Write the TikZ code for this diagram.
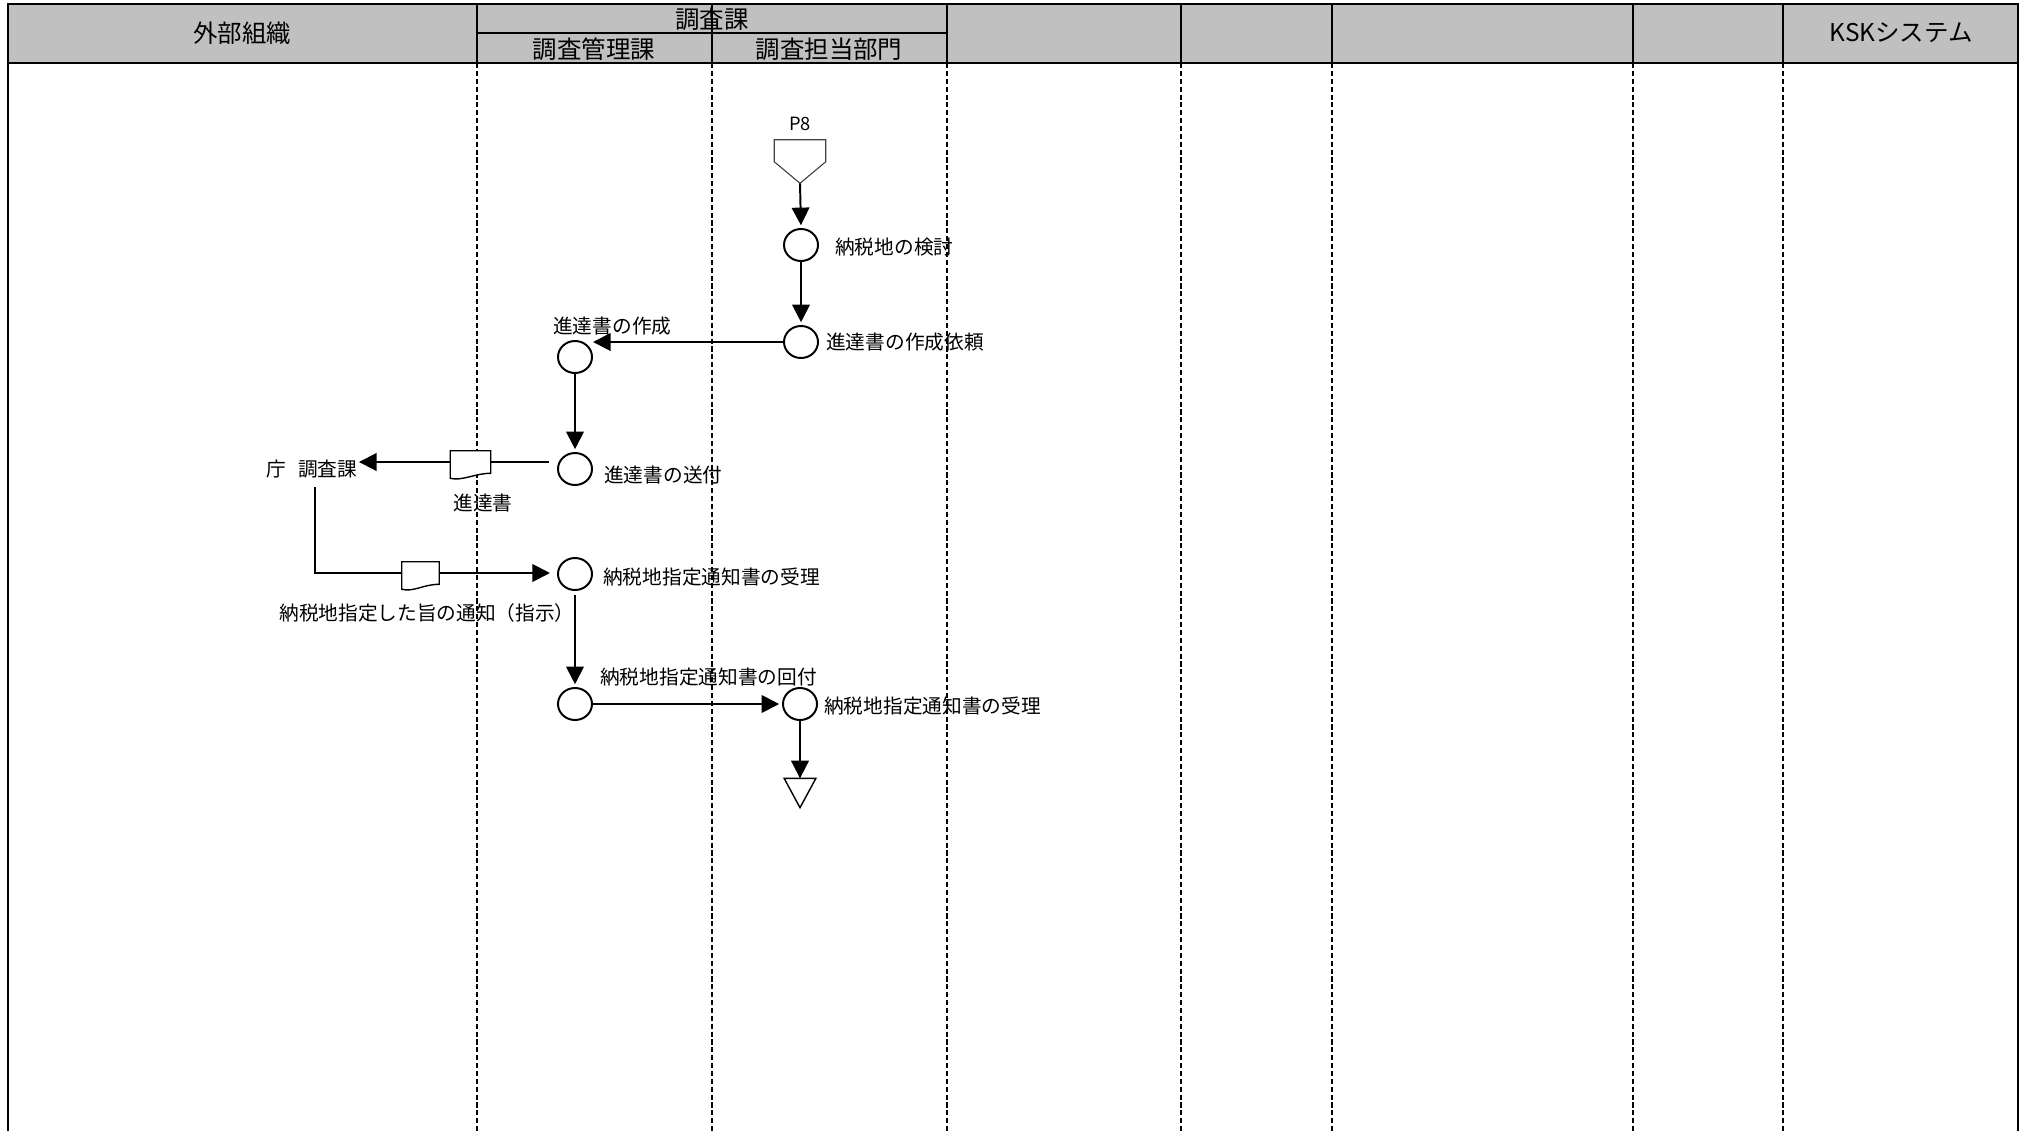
\documentclass[tikz,border=0pt]{standalone}
\usepackage{fontspec}
\setmainfont{Noto Sans CJK JP}
\usetikzlibrary{arrows.meta,shapes.geometric,calc}
\definecolor{headgray}{HTML}{C0C0C0}

\begin{document}
\begin{tikzpicture}[
	x=0.025cm, y=-0.025cm,
	proc/.style={ ellipse, draw, line width=1.4pt, fill=white, inner sep=0pt, minimum width=0.85cm, minimum height=0.8cm },
	txt/.style={ inner sep=0pt, font=\fontsize{14pt}{16pt}\selectfont },
	headtxt/.style={ inner sep=0pt, font=\fontsize{17.4pt}{20pt}\selectfont },
	arr/.style={ -{Triangle[length=12.5pt,width=12.5pt]}, line width=1.4pt, shorten >=2pt },
	flow/.style={ line width=1.4pt },
	docbox/.style={ inner sep=0pt, minimum height=0.55cm },
	lane/.style={ line width=1.3pt, dash pattern=on 3.6pt off 2pt },
	frame/.style={ line width=1.8pt }
]
\useasboundingbox (0,0) rectangle (2022,1131);

% header
\draw[frame,fill=headgray] (8,4) rectangle (2018,63);
\foreach \x in {477,712,947,1181,1332,1633,1783}
  \draw[frame] (\x,4) -- (\x,63);
\draw[frame] (477,33) -- (947,33);
\node at (242,33) (h1) [headtxt] {外部組織};
\node at (712,19) (h2) [headtxt] {調査課};
\node at (594,49) (h3) [headtxt] {調査管理課};
\node at (829,49) (h4) [headtxt] {調査担当部門};
\node at (1901,33) (h5) [headtxt] {KSKシステム};

% lanes
\foreach \x in {477,712,947,1181,1332,1633,1783}
  \draw[lane] (\x,63) -- (\x,1131);
\draw[frame] (8,63) -- (8,1131);
\draw[frame] (2018,63) -- (2018,1131);

% off-page connector and end mark
\node at (800,124) (p8t) [txt,font=\fontsize{13pt}{15pt}\selectfont] {P8};
\node at (800,161.5) (p8) [inner sep=0pt,minimum width=1.275cm,minimum height=1.075cm] {};
\draw[line width=0.8pt,draw=black!75]
  (p8.north west) -- (p8.north east) -- ($(p8.north east)+(0,22)$)
  -- (p8.south) -- ($(p8.north west)+(0,22)$) -- cycle;
\node at (800,793) (end1) [inner sep=0pt,minimum width=0.78cm,minimum height=0.72cm] {};
\draw[line width=1pt] (end1.north west) -- (end1.north east) -- (end1.south) -- cycle;

% steps
\node at (801,245) (c1) [proc] {};
\node at (835,247) (t1) [txt,anchor=west] {納税地の検討};
\node at (801,342) (c2) [proc] {};
\node at (826,342) (t2) [txt,anchor=west] {進達書の作成依頼};
\node at (575,357) (c3) [proc] {};
\node at (553,326) (t3) [txt,anchor=west] {進達書の作成};
\node at (575,469) (c4) [proc] {};
\node at (604,475) (t4) [txt,anchor=west] {進達書の送付};
\node at (312,469) (cho) [txt] {庁\hspace{0.6em}調査課};
\node at (470.5,462) (d1) [docbox,minimum width=1cm] {};
\node at (483,503) (td1) [txt] {進達書};
\node at (575,574) (c5) [proc] {};
\node at (603,577) (t5) [txt,anchor=west] {納税地指定通知書の受理};
\node at (420.5,573) (d2) [docbox,minimum width=0.925cm] {};
\node at (427,613) (td2) [txt] {納税地指定した旨の通知（指示）};
\node at (575,704) (c6) [proc] {};
\node at (600,677) (t6) [txt,anchor=west] {納税地指定通知書の回付};
\node at (800,704) (c7) [proc] {};
\node at (824,706) (t7) [txt,anchor=west] {納税地指定通知書の受理};
\coordinate (k1) at (315,487);

% connectors
\draw[arr] (p8.south) -- (c1.north);
\draw[arr] (c1) -- (c2);
\draw[arr,shorten >=0pt] (c2.west) -- (c2.west -| c3.east);
\draw[arr] (c3) -- (c4);
\draw[flow,shorten >=6pt] (d1.east) -- (d1.east -| c4.west);
\draw[arr,shorten >=1pt] (d1.west) -- (d1.west -| cho.east);
\draw[flow] (k1) |- (d2.west);
\draw[arr,shorten >=5pt] (d2.east) -- (d2.east -| c5.west);
\draw[arr,shorten <=3pt] (c5) -- (c6);
\draw[arr] (c6) -- (c7);
\draw[arr,shorten >=0pt] (c7) -- (end1.north);

% documents
\foreach \d in {d1,d2}
  \draw[line width=1pt,fill=white]
    (\d.north west) -- (\d.north east) -- (\d.south east)
    .. controls +(-16,0) and +(12,3) .. ($(\d.south west)+(0,5)$) -- cycle;

\end{tikzpicture}
\end{document}
